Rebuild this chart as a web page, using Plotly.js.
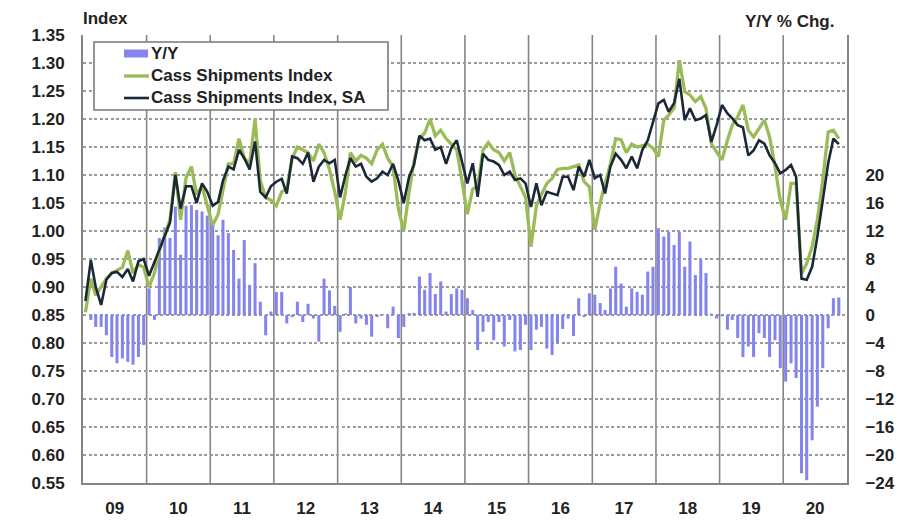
<!DOCTYPE html>
<html>
<head>
<meta charset="utf-8">
<script src="https://cdn.plot.ly/plotly-3.0.1.min.js"></script>
<style>
  html, body { margin: 0; padding: 0; background: #fff; }
  #chart { width: 910px; height: 528px; }
</style>
</head>
<body>
<div id="chart"></div>
<script>
// ---- Data (monthly, Jan 2009 – Nov 2020) ----
const startYear = 2009;
const yearLabels = ["09","10","11","12","13","14","15","16","17","18","19","20"];
const seriesNames = ["Y/Y", "Cass Shipments Index", "Cass Shipments Index, SA"];

// Cass Shipments Index (not seasonally adjusted)
const cassIndex = [
  0.855, 0.915, 0.885, 0.900, 0.915, 0.925, 0.930, 0.935, 0.965, 0.925, 0.940, 0.935,
  0.900, 0.925, 0.965, 0.995, 1.020, 1.105, 1.020, 1.095, 1.115, 1.065, 1.080, 1.045,
  1.010, 1.030, 1.075, 1.120, 1.120, 1.165, 1.130, 1.120, 1.200, 1.090, 1.060, 1.055,
  1.045, 1.070, 1.075, 1.130, 1.150, 1.145, 1.140, 1.125, 1.155, 1.140, 1.110, 1.070,
  1.020, 1.070, 1.140, 1.125, 1.135, 1.130, 1.120, 1.145, 1.155, 1.130, 1.115, 1.040,
  1.000, 1.070, 1.125, 1.165, 1.175, 1.200, 1.170, 1.180, 1.165, 1.155, 1.145, 1.090,
  1.030, 1.075, 1.080, 1.145, 1.158, 1.145, 1.140, 1.125, 1.140, 1.100, 1.080, 1.060,
  0.972, 1.045, 1.065, 1.085, 1.094, 1.110, 1.112, 1.112, 1.115, 1.118, 1.088, 1.079,
  1.002, 1.050, 1.085, 1.120, 1.165, 1.163, 1.140, 1.155, 1.150, 1.152, 1.155, 1.148,
  1.133, 1.198, 1.207, 1.220, 1.305, 1.249, 1.243, 1.231, 1.240, 1.219, 1.156, 1.141,
  1.127, 1.162, 1.189, 1.204, 1.225, 1.180, 1.168, 1.183, 1.198, 1.168, 1.115, 1.055,
  1.020, 1.085, 1.085, 0.924, 0.942, 0.972, 1.020, 1.091, 1.177, 1.180, 1.165
];

// Cass Shipments Index, seasonally adjusted
const cassIndexSA = [
  0.875, 0.948, 0.900, 0.868, 0.913, 0.925, 0.927, 0.918, 0.932, 0.910, 0.946, 0.950,
  0.920, 0.945, 0.965, 0.990, 1.015, 1.100, 1.040, 1.080, 1.080, 1.050, 1.085, 1.070,
  1.045, 1.052, 1.090, 1.115, 1.110, 1.145, 1.130, 1.110, 1.160, 1.070, 1.060, 1.080,
  1.088, 1.093, 1.067, 1.133, 1.130, 1.120, 1.140, 1.088, 1.115, 1.127, 1.121, 1.127,
  1.060, 1.100, 1.130, 1.115, 1.120, 1.097, 1.088, 1.094, 1.106, 1.100, 1.120, 1.090,
  1.050, 1.097, 1.118, 1.170, 1.162, 1.165, 1.145, 1.150, 1.120, 1.148, 1.162, 1.124,
  1.085, 1.121, 1.061, 1.138, 1.127, 1.124, 1.118, 1.100, 1.106, 1.091, 1.094, 1.085,
  1.043, 1.085, 1.046, 1.070, 1.067, 1.064, 1.097, 1.097, 1.073, 1.115, 1.097, 1.127,
  1.094, 1.100, 1.067, 1.115, 1.138, 1.127, 1.112, 1.133, 1.112, 1.145, 1.162, 1.195,
  1.228, 1.234, 1.213, 1.228, 1.272, 1.198, 1.219, 1.198, 1.201, 1.207, 1.159, 1.189,
  1.225, 1.210, 1.201, 1.189, 1.185, 1.135, 1.144, 1.162, 1.156, 1.135, 1.121, 1.103,
  1.109, 1.118, 1.097, 0.915, 0.913, 0.936, 0.990, 1.055, 1.121, 1.165, 1.155
];

// Y/Y % change
const yoyPct = [
  null, -0.7, -1.7, -1.7, -2.9, -6.0, -6.9, -6.2, -6.7, -7.1, -6.0, -4.3,
  3.8, -0.7, 11.0, 12.5, 11.0, 15.5, 8.6, 15.6, 15.7, 15.0, 14.8, 14.2,
  12.9, 11.4, 13.6, 11.7, 9.3, 5.2, 10.7, 4.3, 7.4, 1.9, -2.9, 0.5,
  3.3, 3.3, -1.2, -0.3, 1.9, -1.0, 1.6, -0.5, -3.8, 5.2, 3.5, 1.3,
  -2.4, 0.2, 4.0, -1.2, -0.5, -1.4, -3.1, -0.3, 0.1, -1.9, 1.2, -3.3,
  -1.7, 0.3, 0.3, 5.5, 3.6, 6.0, 3.0, 4.8, 0.5, 3.0, 3.8, 3.6,
  2.4, 0.7, -5.0, -2.4, -1.0, -3.6, -1.0, -4.5, -0.7, -5.2, -5.0, -1.4,
  -5.0, -2.1, -1.7, -4.8, -5.7, -4.0, -2.0, -0.5, -3.0, 2.4, -0.3, 3.1,
  2.9, 1.7, 0.7, 3.8, 6.9, 4.5, 1.2, 3.8, 3.3, 2.9, 6.2, 6.9,
  12.4, 11.2, 11.9, 10.0, 11.9, 6.9, 10.5, 5.7, 7.9, 6.0, 0.2, -0.5,
  -0.2, -2.1, -0.7, -3.3, -6.0, -4.5, -6.0, -2.6, -3.3, -6.0, -3.6, -7.6,
  -9.5, -6.9, -9.0, -22.6, -23.6, -17.9, -13.1, -7.6, -1.9, 2.4, 2.5
];

const leftTicks = [0.55,0.60,0.65,0.70,0.75,0.80,0.85,0.90,0.95,1.00,1.05,1.10,1.15,1.20,1.25,1.30,1.35];
const rightTicks = [-24,-20,-16,-12,-8,-4,0,4,8,12,16,20];

// month mid-points as dates
const months = cassIndex.map((_, i) => {
  const y = startYear + Math.floor(i / 12);
  const m = (i % 12) + 1;
  return y + "-" + String(m).padStart(2, "0") + "-15";
});
const yearMids = yearLabels.map((_, i) => (startYear + i) + "-07-02");

const FONT = "Liberation Sans, Arial, Helvetica, sans-serif";
const FS = 17;
const GRID = "#858585";
const BAR_C = "#8484ee", GREEN_C = "#9bbb59", DARK_C = "#1b2838";
const tf = { family: FONT, size: FS, color: "#222222", weight: "bold" };

const traces = [
  {
    type: "bar", name: seriesNames[0], x: months, y: yoyPct, yaxis: "y",
    width: 1.5e9, showlegend: false,
    marker: { color: BAR_C, line: { width: 0 } }
  },
  {
    type: "scatter", mode: "lines", name: seriesNames[1],
    x: months, y: cassIndex, yaxis: "y2", showlegend: false,
    line: { color: GREEN_C, width: 3.3 }
  },
  {
    type: "scatter", mode: "lines", name: seriesNames[2],
    x: months, y: cassIndexSA, yaxis: "y2", showlegend: false,
    line: { color: DARK_C, width: 2.6 }
  }
];

// pixel -> paper helpers for the legend box (plot area 83..847 x 35..483)
const PL = 83, PR = 847, PT = 35, PB = 483;
const px = v => (v - PL) / (PR - PL);
const py = v => (PB - v) / (PB - PT);

const layout = {
  width: 910, height: 528,
  margin: { l: 83, r: 63, t: 35, b: 45, pad: 0 },
  paper_bgcolor: "#ffffff", plot_bgcolor: "#ffffff",
  font: tf,
  showlegend: false,
  xaxis: {
    type: "date",
    range: ["2009-01-01", "2021-01-01"],
    tickmode: "array", tickvals: yearMids, ticktext: yearLabels,
    ticks: "", showgrid: false, zeroline: false,
    showline: true, linecolor: GRID, linewidth: 2,
    tickfont: tf, ticklabelstandoff: 9
  },
  yaxis: {
    side: "right",
    range: [-24, 40],
    tickmode: "array", tickvals: rightTicks,
    showgrid: false, zeroline: false,
    showline: true, linecolor: GRID, linewidth: 2,
    ticks: "", ticklabelstandoff: 13,
    tickfont: tf
  },
  yaxis2: {
    overlaying: "y", side: "left",
    range: [0.55, 1.35],
    tickmode: "array", tickvals: leftTicks,
    tickformat: ".2f",
    showgrid: true, gridcolor: "#9a9a9a", gridwidth: 1.5, griddash: "3px,2.5px",
    zeroline: false,
    showline: true, linecolor: GRID, linewidth: 2,
    ticks: "", ticklabelstandoff: 13,
    tickfont: tf
  },
  shapes: [],
  annotations: [
    {
      text: "Index", xref: "paper", yref: "paper",
      x: px(81), y: py(19), xanchor: "left", yanchor: "middle",
      showarrow: false, font: tf
    },
    {
      text: "Y/Y % Chg.", xref: "paper", yref: "paper",
      x: px(836), y: py(21), xanchor: "right", yanchor: "middle",
      showarrow: false, font: tf
    }
  ]
};

// vertical year gridlines (solid) at each year boundary
for (let i = 1; i < yearLabels.length; i++) {
  layout.shapes.push({
    type: "line", xref: "x", yref: "paper",
    x0: (startYear + i) + "-01-01", x1: (startYear + i) + "-01-01",
    y0: 0, y1: 1, layer: "below",
    line: { color: GRID, width: 1.6 }
  });
}

// legend box drawn on top of the plot
layout.shapes.push(
  { type: "rect", xref: "paper", yref: "paper", layer: "above",
    x0: px(94), x1: px(388), y0: py(110), y1: py(42),
    fillcolor: "#ffffff", line: { color: "#7a7a7a", width: 1.6 } },
  { type: "rect", xref: "paper", yref: "paper", layer: "above",
    x0: px(124), x1: px(148), y0: py(57.5), y1: py(49.5),
    fillcolor: BAR_C, line: { width: 0 } },
  { type: "line", xref: "paper", yref: "paper", layer: "above",
    x0: px(124), x1: px(149), y0: py(76), y1: py(76),
    line: { color: GREEN_C, width: 3.3 } },
  { type: "line", xref: "paper", yref: "paper", layer: "above",
    x0: px(124), x1: px(149), y0: py(98), y1: py(98),
    line: { color: DARK_C, width: 2.6 } }
);
const legendRowsY = [53.5, 75.5, 97.5];
seriesNames.forEach((nm, i) => {
  layout.annotations.push({
    text: nm, xref: "paper", yref: "paper",
    x: px(149), y: py(legendRowsY[i]), xanchor: "left", yanchor: "middle",
    showarrow: false, font: tf
  });
});

Plotly.newPlot("chart", traces, layout, { staticPlot: true, displayModeBar: false });
</script>
</body>
</html>
